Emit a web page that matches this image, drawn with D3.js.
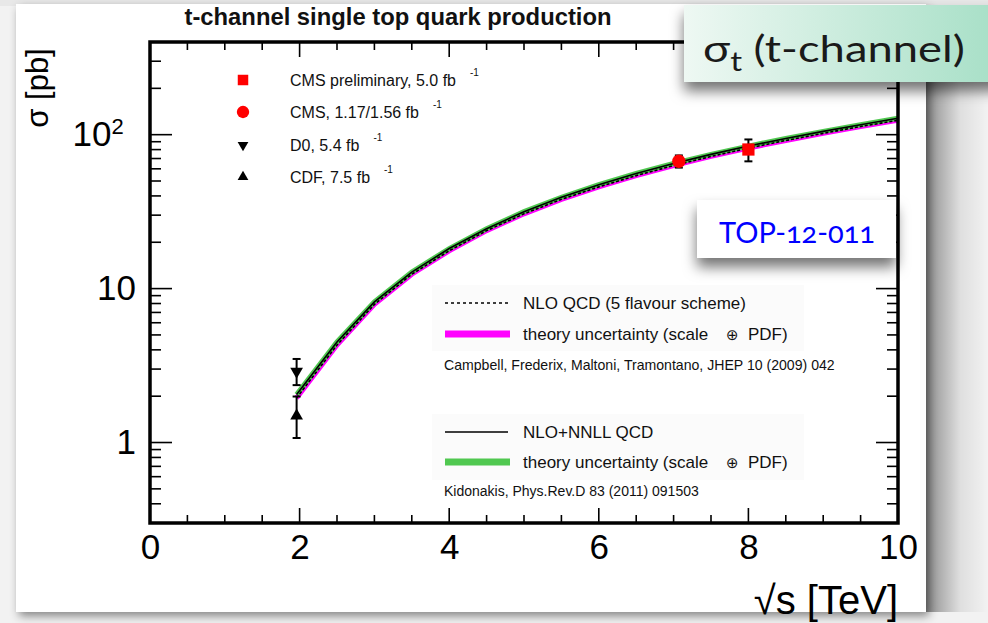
<!DOCTYPE html>
<html>
<head>
<meta charset="utf-8">
<script src="https://cdn.jsdelivr.net/npm/d3@7"></script>
<style>
  body { margin: 0; background: #f2f2f2; }
  svg { display: block; }
</style>
</head>
<body>
<svg id="chart" width="988" height="623"></svg>
<script>
// Theory predictions: t-channel single top cross section vs. centre-of-mass energy
const energies = [1.96, 2.5, 3, 3.5, 4, 4.5, 5, 5.5, 6, 6.5, 7, 7.5, 8, 8.5, 9, 9.5, 10];
const nloQcd   = [1.95, 4.3, 7.9, 12.4, 17.6, 23.8, 30.6, 38.0, 45.8, 54.2, 63.0, 72.2, 81.8, 91.7, 102, 113, 124];
const nnllQcd  = [2.05, 4.5, 8.2, 12.8, 18.2, 24.5, 31.6, 39.2, 47.3, 56.0, 65.0, 74.5, 84.3, 94.5, 105, 116, 128];

// Measurements
const expLabels  = ["CMS preliminary, 5.0 fb", "CMS, 1.17/1.56 fb", "D0, 5.4 fb", "CDF, 7.5 fb"];
const expEnergy  = [8.0, 7.07, 1.96, 1.96];
const expSigma   = [80.1, 67.2, 2.90, 1.49];
const expErrUp   = [13.0, 6.1, 0.59, 0.50];
const expErrDown = [13.0, 6.1, 0.54, 0.42];

// Axis ticks
const xTickValues = [0, 2, 4, 6, 8, 10];
const yTickValues = [1, 10, 100];
const yTickLabels = ["1", "10", "10"];
const yTickSups   = ["", "", "2"];

const svg = d3.select("#chart");
const W = 988, H = 623;
const pLeft = 150, pRight = 898, pTop = 42, pBottom = 523;

const x = d3.scaleLinear().domain([0, 10]).range([pLeft, pRight]);
const y = d3.scaleLog().domain([0.3, 400]).range([pBottom, pTop]);

const defs = svg.append("defs");
const fShadow = defs.append("filter").attr("id", "figShadow")
  .attr("x", "-5%").attr("y", "-5%").attr("width", "115%").attr("height", "115%");
fShadow.append("feDropShadow").attr("dx", 3).attr("dy", 4).attr("stdDeviation", 5)
  .attr("flood-color", "#000").attr("flood-opacity", 0.45);

const fBox = defs.append("filter").attr("id", "boxShadow")
  .attr("x", "-20%").attr("y", "-30%").attr("width", "140%").attr("height", "190%");
fBox.append("feDropShadow").attr("dx", 0).attr("dy", 9).attr("stdDeviation", 7)
  .attr("flood-color", "#000").attr("flood-opacity", 0.55);

const gMint = defs.append("linearGradient").attr("id", "mint")
  .attr("x1", "0").attr("x2", "1").attr("y1", "0").attr("y2", "0");
gMint.append("stop").attr("offset", "0").attr("stop-color", "#eef8f3");
gMint.append("stop").attr("offset", "1").attr("stop-color", "#a6dfc6");

const gSide = defs.append("linearGradient").attr("id", "side")
  .attr("x1", "0").attr("x2", "1").attr("y1", "0").attr("y2", "0");
gSide.append("stop").attr("offset", "0").attr("stop-color", "#000").attr("stop-opacity", 0.42);
gSide.append("stop").attr("offset", "0.55").attr("stop-color", "#000").attr("stop-opacity", 0.08);
gSide.append("stop").attr("offset", "1").attr("stop-color", "#000").attr("stop-opacity", 0.0);

// slide background strip at the top
svg.append("rect").attr("x", 0).attr("y", 0).attr("width", W).attr("height", 6).attr("fill", "#e8e8e8");

// right-hand shaded strip
svg.append("rect").attr("x", 926).attr("y", 60).attr("width", 62).attr("height", 552)
  .attr("fill", "url(#side)");

// figure panel
svg.append("rect").attr("x", 16).attr("y", 4).attr("width", 910).attr("height", 608)
  .attr("fill", "#fff").attr("filter", "url(#figShadow)");

// title
svg.append("text").attr("x", 398).attr("y", 25).attr("text-anchor", "middle")
  .attr("font-family", "Liberation Sans, Arial, sans-serif").attr("font-weight", "bold")
  .attr("font-size", 23.8).attr("fill", "#111")
  .text("t-channel single top quark production");

// legend backdrops
svg.append("rect").attr("x", 432).attr("y", 285).attr("width", 372).attr("height", 66).attr("fill", "#fbfbfb");
svg.append("rect").attr("x", 432).attr("y", 414).attr("width", 372).attr("height", 66).attr("fill", "#fbfbfb");

// ----- theory curves -----
const plot = svg.append("g");
defs.append("clipPath").attr("id", "plotClip").append("rect")
  .attr("x", pLeft).attr("y", pTop).attr("width", pRight - pLeft).attr("height", pBottom - pTop);
const curves = plot.append("g").attr("clip-path", "url(#plotClip)");

const line = (vals) => d3.line().x((d, i) => x(energies[i])).y((d) => y(d))(vals);

curves.append("path").attr("d", line(nloQcd)).attr("fill", "none")
  .attr("stroke", "#ff00ff").attr("stroke-width", 5);
curves.append("path").attr("d", line(nnllQcd)).attr("fill", "none")
  .attr("stroke", "#50c850").attr("stroke-width", 5);
curves.append("path").attr("d", line(nloQcd)).attr("fill", "none")
  .attr("stroke", "#000").attr("stroke-width", 1.6).attr("stroke-dasharray", "3,2");
curves.append("path").attr("d", line(nnllQcd)).attr("fill", "none")
  .attr("stroke", "#000").attr("stroke-width", 1.6);

// ----- axes -----
const axisFont = "Liberation Sans, Arial, sans-serif";
const xMinor = d3.range(0, 10.01, 0.5).filter(v => v % 2 !== 0);
const yMinor = [];
[0.1, 1, 10, 100].forEach(dec => { for (let k = 2; k <= 9; k++) { const v = k * dec; if (v >= 0.3 && v < 400) yMinor.push(v); } });

function tickLines(g, vals, scale, orient, len) {
  vals.forEach(v => {
    const p = scale(v);
    let x1, y1, x2, y2;
    if (orient === "bottom") { x1 = x2 = p; y1 = pBottom; y2 = pBottom - len; }
    if (orient === "top")    { x1 = x2 = p; y1 = pTop; y2 = pTop + len; }
    if (orient === "left")   { y1 = y2 = p; x1 = pLeft; x2 = pLeft + len; }
    if (orient === "right")  { y1 = y2 = p; x1 = pRight; x2 = pRight - len; }
    g.append("line").attr("x1", x1).attr("y1", y1).attr("x2", x2).attr("y2", y2)
      .attr("stroke", "#000").attr("stroke-width", 1.6);
  });
}
const ticks = svg.append("g");
tickLines(ticks, xTickValues, x, "bottom", 15);
tickLines(ticks, xMinor, x, "bottom", 8);
tickLines(ticks, xTickValues, x, "top", 15);
tickLines(ticks, xMinor, x, "top", 8);
tickLines(ticks, yTickValues, y, "left", 22);
tickLines(ticks, yMinor, y, "left", 11);
tickLines(ticks, yTickValues, y, "right", 22);
tickLines(ticks, yMinor, y, "right", 11);

// tick labels through d3 axes (lines hidden; frame drawn separately)
const xAxis = d3.axisBottom(x).tickValues(xTickValues).tickSize(0).tickPadding(11).tickFormat(d3.format("d"));
const gx = svg.append("g").attr("transform", `translate(0,${pBottom})`).call(xAxis);
gx.select(".domain").remove();
gx.selectAll("text").attr("font-family", axisFont).attr("font-size", 35).attr("fill", "#000");

const yAxis = d3.axisLeft(y).tickValues(yTickValues).tickSize(0).tickPadding(14).tickFormat((d, i) => yTickLabels[i]);
const gy = svg.append("g").attr("transform", `translate(${pLeft},0)`).call(yAxis);
gy.select(".domain").remove();
gy.selectAll("text").attr("font-family", axisFont).attr("font-size", 35).attr("fill", "#000")
  .each(function (d, i) {
    if (yTickSups[i]) {
      const t = d3.select(this);
      t.attr("dx", "-0.35em");
      t.append("tspan").attr("font-size", 22).attr("dy", "-0.55em").text(yTickSups[i]);
    }
  });

// frame
svg.append("rect").attr("x", pLeft).attr("y", pTop).attr("width", pRight - pLeft).attr("height", pBottom - pTop)
  .attr("fill", "none").attr("stroke", "#000").attr("stroke-width", 3.5);

// axis titles
svg.append("text").attr("transform", "translate(48,88) rotate(-90)").attr("text-anchor", "middle")
  .attr("font-family", axisFont).attr("font-size", 31).attr("fill", "#000").text("σ [pb]");
svg.append("text").attr("x", pRight).attr("y", 614).attr("text-anchor", "end")
  .attr("font-family", axisFont).attr("font-size", 40).attr("fill", "#000").text("√s [TeV]");

// ----- measurements -----
const symShape = [d3.symbolSquare, d3.symbolCircle, d3.symbolTriangle, d3.symbolTriangle];
const symColor = ["#ff0000", "#ff0000", "#000", "#000"];
const symRot   = [0, 0, 180, 0];
const symSize  = [150, 140, 70, 70];
const pts = svg.append("g");
expSigma.forEach((s, i) => {
  const cx = x(expEnergy[i]);
  const yHi = y(s + expErrUp[i]), yLo = y(s - expErrDown[i]);
  pts.append("line").attr("x1", cx).attr("x2", cx).attr("y1", yHi).attr("y2", yLo)
    .attr("stroke", "#000").attr("stroke-width", 2);
  [yHi, yLo].forEach(yy => pts.append("line").attr("x1", cx - 4).attr("x2", cx + 4)
    .attr("y1", yy).attr("y2", yy).attr("stroke", "#000").attr("stroke-width", 2));
  pts.append("path").attr("d", d3.symbol().type(symShape[i]).size(symSize[i])())
    .attr("transform", `translate(${cx},${y(s)}) rotate(${symRot[i]})`)
    .attr("fill", symColor[i]);
});

// ----- legend: measurements -----
const legFont = "Liberation Sans, Arial, sans-serif";
const legRowY = [80, 112, 145, 177];
const legSize = [110, 120, 50, 50];
expLabels.forEach((lab, i) => {
  svg.append("path").attr("d", d3.symbol().type(symShape[i]).size(legSize[i])())
    .attr("transform", `translate(243,${legRowY[i]}) rotate(${symRot[i]})`)
    .attr("fill", symColor[i]);
  const t = svg.append("text").attr("x", 290).attr("y", legRowY[i] + 6)
    .attr("font-family", legFont).attr("font-size", 16).attr("fill", "#111").text(lab);
  const w = t.node().getComputedTextLength();
  svg.append("text").attr("x", 290 + w + 14).attr("y", legRowY[i] - 4)
    .attr("font-family", legFont).attr("font-size", 10).attr("fill", "#111").text("-1");
});

// ----- legend: theory -----
const thY = [303, 334, 432, 462];
svg.append("line").attr("x1", 445).attr("x2", 508).attr("y1", thY[0]).attr("y2", thY[0])
  .attr("stroke", "#000").attr("stroke-width", 1.5).attr("stroke-dasharray", "3,3");
svg.append("line").attr("x1", 445).attr("x2", 510).attr("y1", thY[1]).attr("y2", thY[1])
  .attr("stroke", "#ff00ff").attr("stroke-width", 7);
svg.append("line").attr("x1", 445).attr("x2", 508).attr("y1", thY[2]).attr("y2", thY[2])
  .attr("stroke", "#000").attr("stroke-width", 1.5);
svg.append("line").attr("x1", 445).attr("x2", 510).attr("y1", thY[3]).attr("y2", thY[3])
  .attr("stroke", "#50c850").attr("stroke-width", 7);

const thLabels = ["NLO QCD (5 flavour scheme)", "theory uncertainty (scale", "NLO+NNLL QCD", "theory uncertainty (scale"];
thLabels.forEach((lab, i) => {
  svg.append("text").attr("x", 523).attr("y", thY[i] + 6)
    .attr("font-family", legFont).attr("font-size", 17).attr("fill", "#111").text(lab);
});
[thY[1], thY[3]].forEach(yy => {
  svg.append("text").attr("x", 726).attr("y", yy + 6)
    .attr("font-family", "DejaVu Sans, sans-serif").attr("font-size", 15).attr("fill", "#111").text("⊕");
  svg.append("text").attr("x", 748).attr("y", yy + 6)
    .attr("font-family", legFont).attr("font-size", 17).attr("fill", "#111").text("PDF)");
});
svg.append("text").attr("x", 444).attr("y", 370)
  .attr("font-family", legFont).attr("font-size", 14.1).attr("fill", "#111")
  .text("Campbell, Frederix, Maltoni, Tramontano, JHEP 10 (2009) 042");
svg.append("text").attr("x", 444).attr("y", 496)
  .attr("font-family", legFont).attr("font-size", 14).attr("fill", "#111")
  .text("Kidonakis, Phys.Rev.D 83 (2011) 091503");

// ----- analysis tag box -----
svg.append("rect").attr("x", 697).attr("y", 200).attr("width", 199).attr("height", 58)
  .attr("fill", "#fff").attr("filter", "url(#boxShadow)");
svg.append("text").attr("x", 719).attr("y", 243)
  .attr("font-family", "Lato, Open Sans, sans-serif").attr("font-size", 29)
  .style("font-variant-numeric", "oldstyle-nums").attr("fill", "#0000ff").text("TOP-12-011");

// ----- heading box -----
svg.append("rect").attr("x", 684).attr("y", 5).attr("width", 320).attr("height", 77)
  .attr("fill", "url(#mint)").attr("filter", "url(#boxShadow)");
const hd = svg.append("text").attr("x", 0).attr("y", 0)
  .attr("font-family", "Lato, Open Sans, sans-serif").attr("font-size", 37).attr("fill", "#1a1a1a");
hd.append("tspan").text("σ");
hd.append("tspan").attr("font-size", 27).attr("dy", 9).text("t");
hd.append("tspan").attr("dy", -9).text(" (t-channel)");
const hdW = hd.node().getBBox().width;
hd.attr("transform", `translate(703,62) scale(${262 / hdW},1)`);
</script>
</body>
</html>
